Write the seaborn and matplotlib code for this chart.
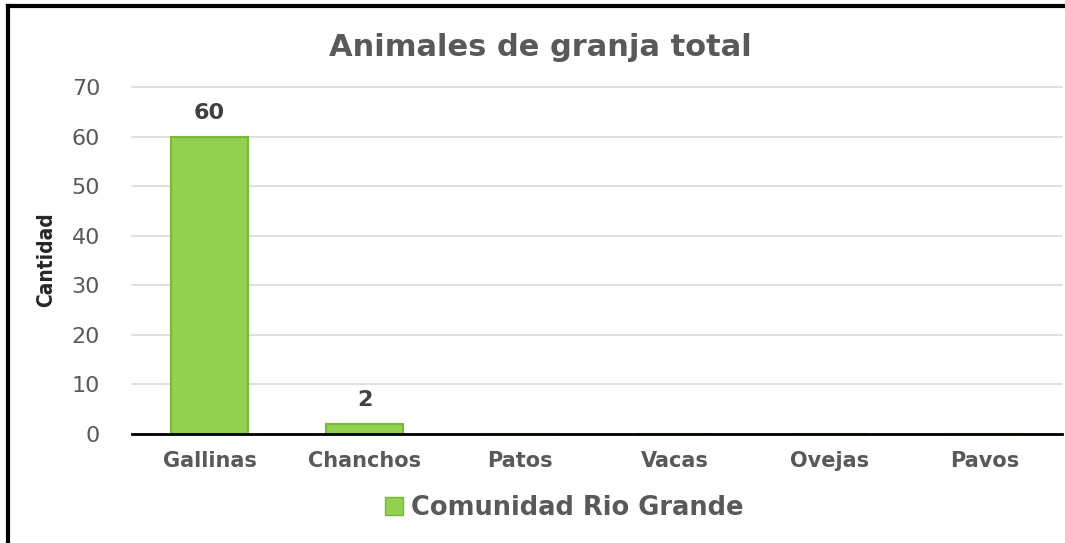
import matplotlib
matplotlib.use("Agg")
import matplotlib.pyplot as plt
import seaborn as sns
import pandas as pd
from matplotlib.patches import Rectangle
from matplotlib.lines import Line2D

categorias = ["Gallinas", "Chanchos", "Patos", "Vacas", "Ovejas", "Pavos"]
cantidad = [60, 2, 0, 0, 0, 0]
serie = "Comunidad Rio Grande"

df = pd.DataFrame({"animal": categorias, "cantidad": cantidad, "serie": serie})

sns.set_theme(style="white")
plt.rcParams["font.family"] = ["DejaVu Sans"]

gris = "#595959"
verde = "#92D050"
borde = "#7AB83C"

fig = plt.figure(figsize=(10.65, 5.43), dpi=100)
ax = fig.add_axes([132 / 1065, 1 - 434 / 543, (1062 - 132) / 1065, (434 - 87) / 543])

sns.barplot(data=df, x="animal", y="cantidad", hue="serie", palette=[verde],
            saturation=1, width=0.5, edgecolor=borde, linewidth=1.5, ax=ax, legend=False)

ax.set_ylim(0, 70)
ax.set_yticks(range(0, 71, 10))
ax.grid(axis="y", color="#D9D9D9", linewidth=1.2)
for gl in ax.get_ygridlines():
    gl.set_clip_on(False)
ax.set_axisbelow(True)
for s in ["top", "right", "left"]:
    ax.spines[s].set_visible(False)
ax.spines["bottom"].set_color("black")
ax.spines["bottom"].set_linewidth(2)
ax.tick_params(axis="y", colors=gris, labelsize=16, length=0, pad=23)
ax.tick_params(axis="x", colors=gris, labelsize=15, length=0, pad=12)
for t in ax.get_xticklabels():
    t.set_fontweight("bold")
ax.set_xlabel("")
ax.set_ylabel("")

fig.text(46 / 1065, 1 - 260 / 543, "Cantidad", rotation=90, ha="center", va="center",
         fontsize=15, fontstretch="condensed", fontweight="semibold", color="#262626")

for p, v in zip(ax.patches, cantidad):
    if v > 0:
        ax.annotate(str(v), (p.get_x() + p.get_width() / 2, v), xytext=(0, 10),
                    textcoords="offset points", ha="center", va="bottom",
                    fontsize=16, fontweight="bold", color="#404040")

fig.text(540 / 1065, 1 - 47 / 543, "Animales de granja total", ha="center", va="center",
         fontsize=22, fontweight="bold", color=gris)

# legend below the axis
fig.legend(handles=[Rectangle((0, 0), 1, 1, facecolor=verde, edgecolor=borde)],
           labels=[serie], loc="center", bbox_to_anchor=(564 / 1065, 1 - 508 / 543),
           frameon=False, handlelength=0.7, handleheight=0.7,
           handletextpad=0.3, prop={"weight": "bold", "size": 18.5})
for t in fig.legends[0].get_texts():
    t.set_color(gris)

# black frame (left and top edges visible)
fig.lines.append(Line2D([7.5 / 1065, 7.5 / 1065], [0, 1 - 6 / 543], transform=fig.transFigure,
                        color="black", linewidth=3, solid_capstyle="projecting"))
fig.lines.append(Line2D([7.5 / 1065, 1], [1 - 6 / 543, 1 - 6 / 543], transform=fig.transFigure,
                        color="black", linewidth=3, solid_capstyle="projecting"))

fig.savefig("out.png", dpi=100, facecolor="white")
